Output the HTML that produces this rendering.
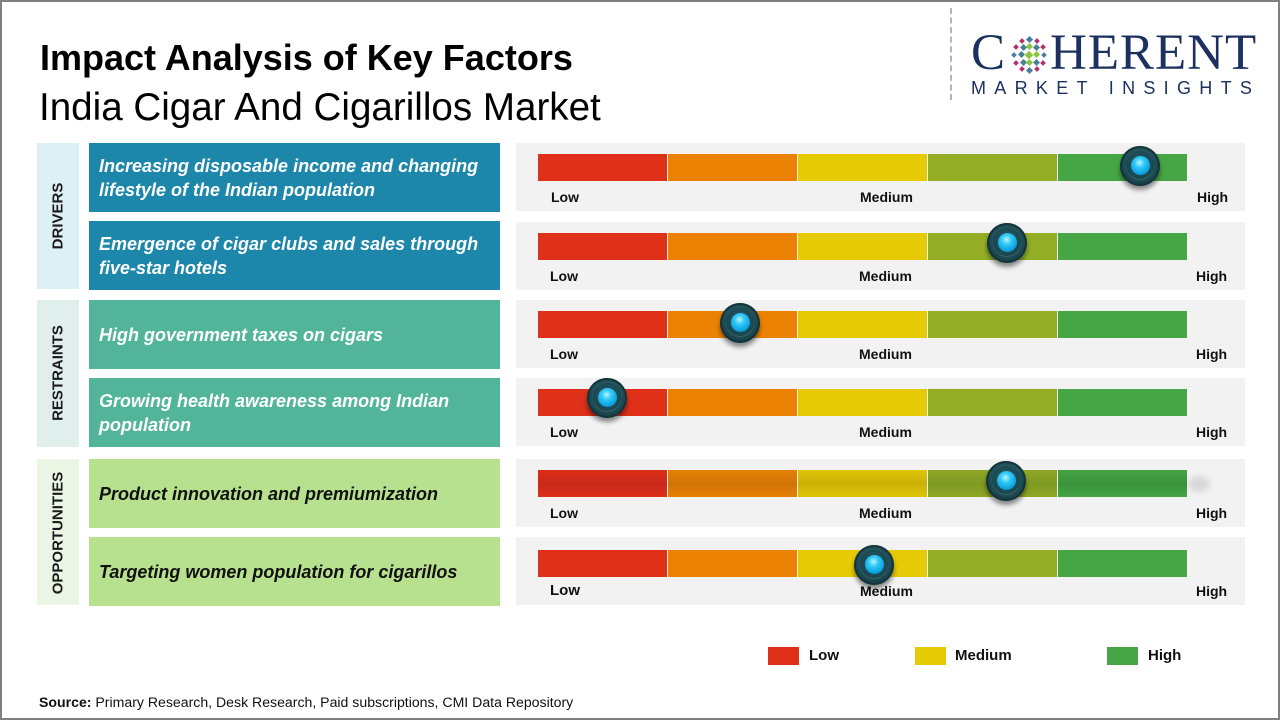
<!DOCTYPE html>
<html>
<head>
<meta charset="utf-8">
<style>
*{margin:0;padding:0;box-sizing:border-box;}
html,body{width:1280px;height:720px;overflow:hidden;background:#fff;}
body{position:relative;font-family:"Liberation Sans",Arial,sans-serif;}
.frame{position:absolute;left:0;top:0;width:1280px;height:720px;border:2px solid #7f7f7f;}
.abs{position:absolute;}
.title{left:40px;top:40px;font-size:36px;line-height:36px;font-weight:bold;color:#000;white-space:nowrap;}
.sub{left:39px;top:89px;font-size:38.6px;line-height:38px;color:#000;white-space:nowrap;}
.cat{position:absolute;left:37px;width:42px;}
.catlbl{position:absolute;left:58px;font-size:15px;font-weight:bold;color:#1a1a1a;white-space:nowrap;transform:translate(-50%,-50%) rotate(-90deg);line-height:15px;}
.fac{position:absolute;left:89px;width:411px;height:69px;display:flex;align-items:center;padding-left:10px;font-size:18px;line-height:24px;font-weight:bold;font-style:italic;}
.drv{background:#1d87ab;color:#fff;}
.rst{background:#52b59a;color:#fff;}
.opp{background:#b8e18f;color:#111;}
.panel{position:absolute;left:516px;width:729px;height:68px;background:#f2f2f2;}
.seg{position:absolute;height:27px;width:129px;}
.lbl{position:absolute;font-size:14px;line-height:14px;font-weight:bold;color:#111;white-space:nowrap;}
.knob{position:absolute;width:40px;height:40px;border-radius:50%;
 background:radial-gradient(circle at 50% 42%,#3c7880 0%,#24565e 40%,#143c44 75%,#0c2a30 100%);
 box-shadow:0 4px 5px rgba(0,0,0,0.45), inset 0 0 0 2px rgba(20,50,56,0.9);}
.knob::before{content:"";position:absolute;left:6px;top:5px;width:28px;height:28px;border-radius:50%;
 background:radial-gradient(circle at 50% 45%,#2a5c64 0%,#1a464e 70%,#0f3239 100%);box-shadow:0 1px 1px rgba(255,255,255,0.15);}
.knob::after{content:"";position:absolute;left:10.5px;top:9.5px;width:19px;height:19px;border-radius:50%;
 background:radial-gradient(circle at 45% 35%,#b8f6ff 0%,#33c9f6 30%,#0ea5e3 65%,#0a6fa8 100%);}
.leg{position:absolute;top:647px;width:31px;height:18px;}
.legt{position:absolute;top:648px;font-size:15px;line-height:16px;font-weight:bold;color:#111;}
.src{left:39px;top:694px;font-size:14.1px;line-height:16px;color:#111;white-space:nowrap;}
</style>
</head>
<body>
<div class="frame"></div>

<div class="abs title">Impact Analysis of Key Factors</div>
<div class="abs sub">India Cigar And Cigarillos Market</div>

<!-- logo -->
<div class="abs" style="left:950px;top:8px;height:92px;border-left:2px dashed #b5b5b5;"></div>
<div class="abs" style="left:971px;top:28px;font-family:'Liberation Serif',serif;font-size:51px;line-height:51px;color:#1d3160;">C</div>
<svg class="abs" style="left:1010px;top:36px;" width="40" height="40" viewBox="0 0 40 40">
 <g>
  <rect x="17" y="1" width="5" height="5" transform="rotate(45 19.5 3.5)" fill="#4a7f9b"/>
  <rect x="10" y="3" width="4" height="4" transform="rotate(45 12 5)" fill="#b5306a"/>
  <rect x="25" y="3" width="4" height="4" transform="rotate(45 27 5)" fill="#b5306a"/>
  <rect x="4" y="9" width="4" height="4" transform="rotate(45 6 11)" fill="#b5306a"/>
  <rect x="11" y="9" width="5" height="5" transform="rotate(45 13.5 11.5)" fill="#4a7f9b"/>
  <rect x="17" y="8" width="5" height="5" transform="rotate(45 19.5 10.5)" fill="#8cc43c"/>
  <rect x="24" y="9" width="5" height="5" transform="rotate(45 26.5 11.5)" fill="#4a7f9b"/>
  <rect x="31" y="9" width="4" height="4" transform="rotate(45 33 11)" fill="#b5306a"/>
  <rect x="2" y="17" width="4" height="4" transform="rotate(45 4 19)" fill="#4a7f9b"/>
  <rect x="9" y="16" width="5" height="5" transform="rotate(45 11.5 18.5)" fill="#4a7f9b"/>
  <rect x="16" y="16" width="6" height="6" transform="rotate(45 19 19)" fill="#8cc43c"/>
  <rect x="24" y="16" width="5" height="5" transform="rotate(45 26.5 18.5)" fill="#8cc43c"/>
  <rect x="32" y="17" width="4" height="4" transform="rotate(45 34 19)" fill="#4a7f9b"/>
  <rect x="4" y="25" width="4" height="4" transform="rotate(45 6 27)" fill="#b5306a"/>
  <rect x="11" y="24" width="5" height="5" transform="rotate(45 13.5 26.5)" fill="#4a7f9b"/>
  <rect x="17" y="24" width="5" height="5" transform="rotate(45 19.5 26.5)" fill="#8cc43c"/>
  <rect x="24" y="24" width="5" height="5" transform="rotate(45 26.5 26.5)" fill="#4a7f9b"/>
  <rect x="31" y="25" width="4" height="4" transform="rotate(45 33 27)" fill="#b5306a"/>
  <rect x="10" y="31" width="4" height="4" transform="rotate(45 12 33)" fill="#b5306a"/>
  <rect x="17" y="32" width="5" height="5" transform="rotate(45 19.5 34.5)" fill="#4a7f9b"/>
  <rect x="25" y="31" width="4" height="4" transform="rotate(45 27 33)" fill="#b5306a"/>
 </g>
</svg>
<div class="abs" style="left:1050px;top:28px;font-family:'Liberation Serif',serif;font-size:51px;line-height:51px;color:#1d3160;letter-spacing:1px;">HERENT</div>
<div class="abs" style="left:971px;top:79px;font-size:18px;line-height:18px;color:#1d3160;letter-spacing:8.3px;white-space:nowrap;">MARKET INSIGHTS</div>

<!-- categories -->
<div class="cat" style="top:143px;height:146px;background:#ddf0f6;"></div>
<div class="catlbl" style="top:216px;">DRIVERS</div>
<div class="cat" style="top:300px;height:147px;background:#e1efec;"></div>
<div class="catlbl" style="top:373px;">RESTRAINTS</div>
<div class="cat" style="top:459px;height:146px;background:#eaf5e4;"></div>
<div class="catlbl" style="top:533px;">OPPORTUNITIES</div>

<!-- factors -->
<div class="fac drv" style="top:143px;">Increasing disposable income and changing<br>lifestyle of the Indian population</div>
<div class="fac drv" style="top:221px;">Emergence of cigar clubs and sales through<br>five-star hotels</div>
<div class="fac rst" style="top:300px;">High government taxes on cigars</div>
<div class="fac rst" style="top:378px;">Growing health awareness among Indian<br>population</div>
<div class="fac opp" style="top:459px;">Product innovation and premiumization</div>
<div class="fac opp" style="top:537px;">Targeting women population for cigarillos</div>

<!-- gauges -->
<div class="panel" style="top:143px;"></div>
<div class="panel" style="top:222px;"></div>
<div class="panel" style="top:300px;"></div>
<div class="panel" style="top:378px;"></div>
<div class="panel" style="top:459px;"></div>
<div class="panel" style="top:537px;"></div>

<!-- row 1 -->
<div class="seg" style="top:154px;left:538px;background:#df3019;"></div>
<div class="seg" style="top:154px;left:668px;background:#ec8203;"></div>
<div class="seg" style="top:154px;left:798px;background:#e5ca05;"></div>
<div class="seg" style="top:154px;left:928px;background:#93ae25;"></div>
<div class="seg" style="top:154px;left:1058px;background:#46a645;"></div>
<div class="lbl" style="top:190px;left:551px;">Low</div>
<div class="lbl" style="top:190px;left:860px;">Medium</div>
<div class="lbl" style="top:190px;left:1197px;">High</div>

<!-- row 2 -->
<div class="seg" style="top:233px;left:538px;background:#df3019;"></div>
<div class="seg" style="top:233px;left:668px;background:#ec8203;"></div>
<div class="seg" style="top:233px;left:798px;background:#e5ca05;"></div>
<div class="seg" style="top:233px;left:928px;background:#93ae25;"></div>
<div class="seg" style="top:233px;left:1058px;background:#46a645;"></div>
<div class="lbl" style="top:269px;left:550px;">Low</div>
<div class="lbl" style="top:269px;left:859px;">Medium</div>
<div class="lbl" style="top:269px;left:1196px;">High</div>

<!-- row 3 -->
<div class="seg" style="top:311px;left:538px;background:#df3019;"></div>
<div class="seg" style="top:311px;left:668px;background:#ec8203;"></div>
<div class="seg" style="top:311px;left:798px;background:#e5ca05;"></div>
<div class="seg" style="top:311px;left:928px;background:#93ae25;"></div>
<div class="seg" style="top:311px;left:1058px;background:#46a645;"></div>
<div class="lbl" style="top:347px;left:550px;">Low</div>
<div class="lbl" style="top:347px;left:859px;">Medium</div>
<div class="lbl" style="top:347px;left:1196px;">High</div>

<!-- row 4 -->
<div class="seg" style="top:389px;left:538px;background:#df3019;"></div>
<div class="seg" style="top:389px;left:668px;background:#ec8203;"></div>
<div class="seg" style="top:389px;left:798px;background:#e5ca05;"></div>
<div class="seg" style="top:389px;left:928px;background:#93ae25;"></div>
<div class="seg" style="top:389px;left:1058px;background:#46a645;"></div>
<div class="lbl" style="top:425px;left:550px;">Low</div>
<div class="lbl" style="top:425px;left:859px;">Medium</div>
<div class="lbl" style="top:425px;left:1196px;">High</div>

<!-- row 5 (shaded) -->
<div class="seg" style="top:470px;left:538px;background:linear-gradient(#dc3019,#c9281a 50%,#dc3019);"></div>
<div class="seg" style="top:470px;left:668px;background:linear-gradient(#e68005,#d27306 50%,#e68005);"></div>
<div class="seg" style="top:470px;left:798px;background:linear-gradient(#dfc507,#cbb106 50%,#dfc507);"></div>
<div class="seg" style="top:470px;left:928px;background:linear-gradient(#8fa826,#7f9a22 50%,#8fa826);"></div>
<div class="seg" style="top:470px;left:1058px;background:linear-gradient(#45a444,#3a933c 50%,#45a444);"></div>
<div class="abs" style="top:476px;left:1188px;width:22px;height:16px;border-radius:50%;background:rgba(0,0,0,0.10);filter:blur(3px);"></div>
<div class="lbl" style="top:506px;left:550px;">Low</div>
<div class="lbl" style="top:506px;left:859px;">Medium</div>
<div class="lbl" style="top:506px;left:1196px;">High</div>

<!-- row 6 -->
<div class="seg" style="top:550px;left:538px;background:#df3019;"></div>
<div class="seg" style="top:550px;left:668px;background:#ec8203;"></div>
<div class="seg" style="top:550px;left:798px;background:#e5ca05;"></div>
<div class="seg" style="top:550px;left:928px;background:#93ae25;"></div>
<div class="seg" style="top:550px;left:1058px;background:#46a645;"></div>
<div class="lbl" style="top:584px;left:550px;font-size:15px;">Low</div>
<div class="lbl" style="top:584px;left:860px;">Medium</div>
<div class="lbl" style="top:584px;left:1196px;">High</div>

<!-- knobs -->
<div class="knob" style="left:1120px;top:146px;"></div>
<div class="knob" style="left:987px;top:223px;"></div>
<div class="knob" style="left:720px;top:303px;"></div>
<div class="knob" style="left:587px;top:378px;"></div>
<div class="knob" style="left:986px;top:461px;"></div>
<div class="knob" style="left:854px;top:545px;"></div>

<!-- legend -->
<div class="leg" style="left:768px;background:#df3019;"></div>
<div class="legt" style="left:809px;">Low</div>
<div class="leg" style="left:915px;background:#e5ca05;"></div>
<div class="legt" style="left:955px;">Medium</div>
<div class="leg" style="left:1107px;background:#46a645;"></div>
<div class="legt" style="left:1148px;">High</div>

<div class="abs src"><b>Source:</b> Primary Research, Desk Research, Paid subscriptions, CMI Data Repository</div>
</body>
</html>
